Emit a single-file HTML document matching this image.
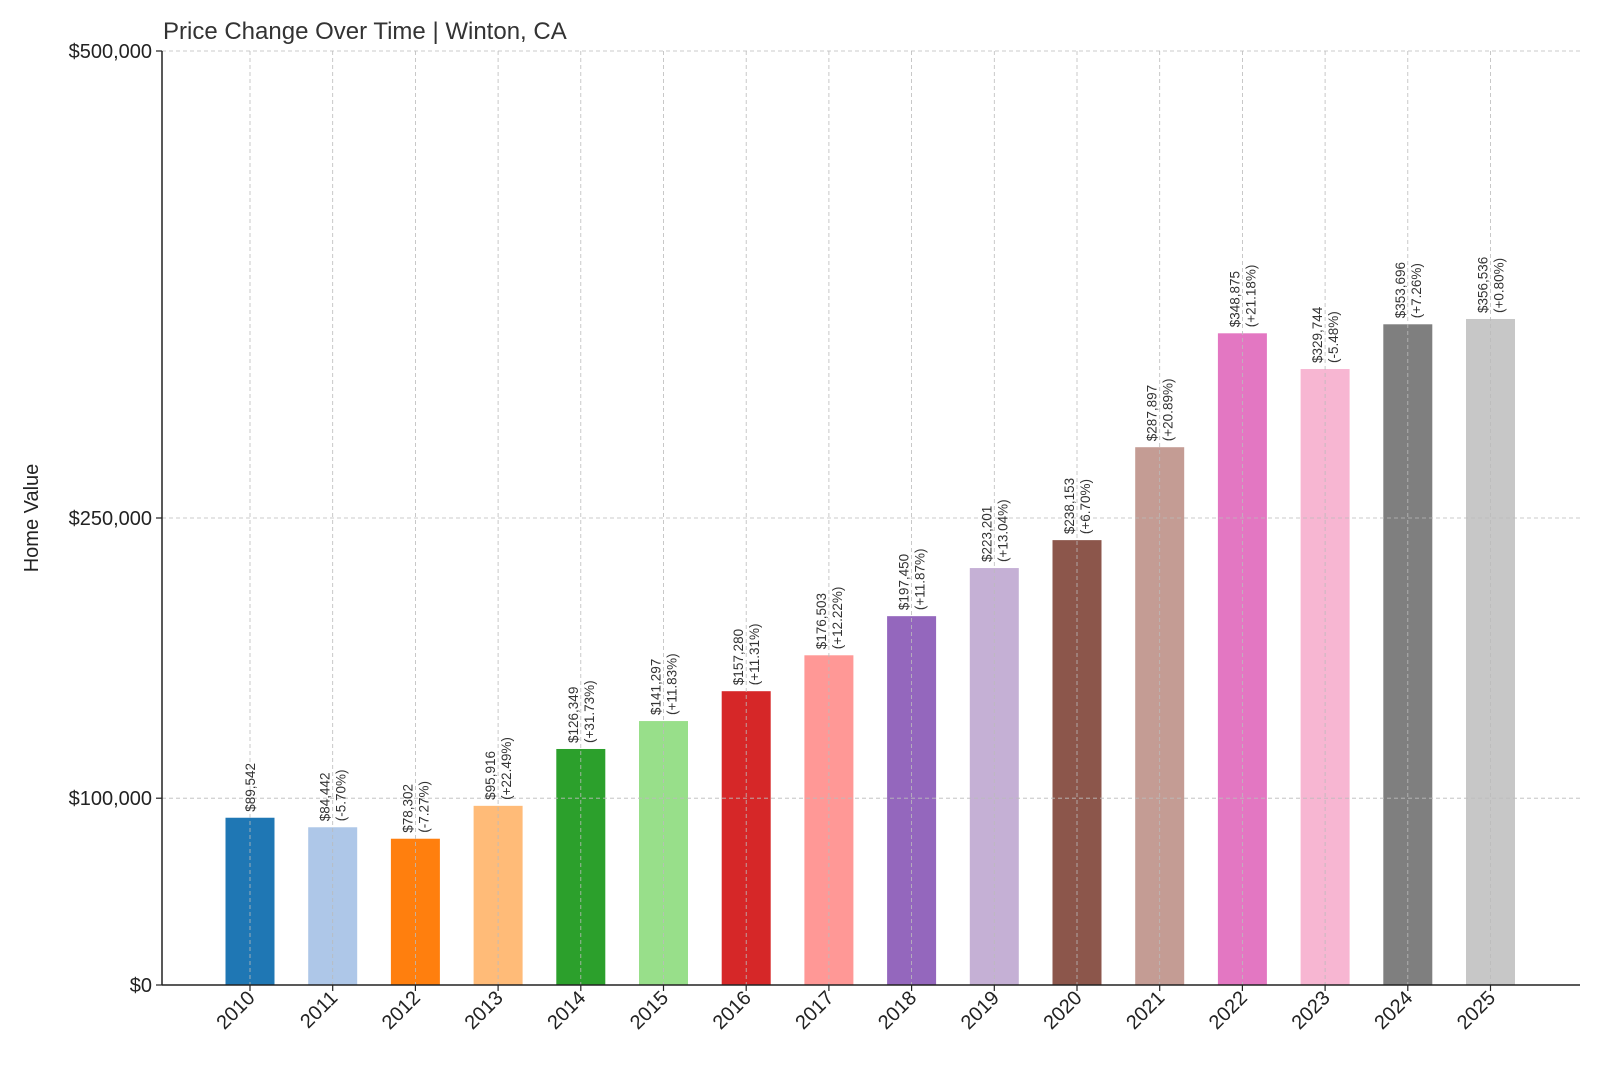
<!DOCTYPE html>
<html><head><meta charset="utf-8"><style>
body{margin:0;background:#fff;}
svg{font-family:"Liberation Sans","DejaVu Sans",sans-serif;}
</style></head><body>
<svg id="chart" width="1600" height="1067" viewBox="0 0 1600 1067">
<text x="163" y="39" font-size="24" fill="#333">Price Change Over Time | Winton, CA</text>
<text transform="translate(38,518) rotate(-90)" text-anchor="middle" font-size="20" fill="#222">Home Value</text>
<g id="grid"></g><g id="bars"></g><g id="labels"></g><g id="axes"></g>
</svg>
<script>
const years=["2010","2011","2012","2013","2014","2015","2016","2017","2018","2019","2020","2021","2022","2023","2024","2025"];
const values=[89542,84442,78302,95916,126349,141297,157280,176503,197450,223201,238153,287897,348875,329744,353696,356536];
const pctLabels=["","(-5.70%)","(-7.27%)","(+22.49%)","(+31.73%)","(+11.83%)","(+11.31%)","(+12.22%)","(+11.87%)","(+13.04%)","(+6.70%)","(+20.89%)","(+21.18%)","(-5.48%)","(+7.26%)","(+0.80%)"];
const yTicks=[0,100000,250000,500000];
const yTickLabels=["$0","$100,000","$250,000","$500,000"];
const colors=["#1f77b4","#aec7e8","#ff7f0e","#ffbb78","#2ca02c","#98df8a","#d62728","#ff9896","#9467bd","#c5b0d5","#8c564b","#c49c94","#e377c2","#f7b6d2","#7f7f7f","#c7c7c7"];
const NS="http://www.w3.org/2000/svg";
const L=162,R=1580,T=51,B=985,yMax=500000;
const y=v=>B-v/yMax*(B-T);
const step=82.7,x0=250;
const x=i=>x0+i*step;
const bw=49;
function mk(tag,attrs,parent,txt){const e=document.createElementNS(NS,tag);for(const k in attrs)e.setAttribute(k,attrs[k]);if(txt!==undefined)e.textContent=txt;parent.appendChild(e);return e;}
const grid=document.getElementById('grid'),bars=document.getElementById('bars'),labels=document.getElementById('labels'),axes=document.getElementById('axes');
years.forEach((yr,i)=>{
  const r=mk('rect',{x:x(i)-bw/2,y:y(values[i]),width:bw,height:B-y(values[i]),fill:colors[i]},bars);
  
  
  const top=y(values[i])-6;
  const two=pctLabels[i]!=="";
  const t1=mk('text',{transform:`translate(${x(i)+(two?-3:5)},${top}) rotate(-90)`,'font-size':13.5,fill:'#333'},labels,'$'+values[i].toLocaleString('en-US'));
  
  
  if(two){const t2=mk('text',{transform:`translate(${x(i)+13},${top}) rotate(-90)`,'font-size':13.5,fill:'#333'},labels,pctLabels[i]);
    
    }
  const g=mk('line',{x1:x(i),x2:x(i),y1:T,y2:B,stroke:'#bbb','stroke-dasharray':'4,3','stroke-width':0.8},grid);
  
  
  mk('line',{x1:x(i),x2:x(i),y1:B,y2:B+6,stroke:'#222','stroke-width':1.2},axes);
  const tl=mk('text',{transform:`translate(${x(i)+6},${B+14}) rotate(-45)`,'text-anchor':'end','font-size':20,fill:'#222'},axes,yr);
  
  
});
grid.parentNode.appendChild(grid);grid.parentNode.appendChild(labels);grid.parentNode.appendChild(axes);
yTicks.forEach((v,i)=>{
  if(v>0){const g=mk('line',{x1:L,x2:R,y1:y(v),y2:y(v),stroke:'#bbb','stroke-dasharray':'4,3','stroke-width':0.8},grid);
    
    }
  mk('line',{x1:L-6,x2:L,y1:y(v),y2:y(v),stroke:'#222','stroke-width':1.2},axes);
  const t=mk('text',{x:L-10,y:y(v)+7,'text-anchor':'end','font-size':20,fill:'#222'},axes,yTickLabels[i]);
  
  
});
const ax1=mk('line',{x1:L,x2:L,y1:T,y2:B,stroke:'#222','stroke-width':1.5},axes);


const ax2=mk('line',{x1:L,x2:R,y1:B,y2:B,stroke:'#222','stroke-width':1.5},axes);


</script>
</body></html>
